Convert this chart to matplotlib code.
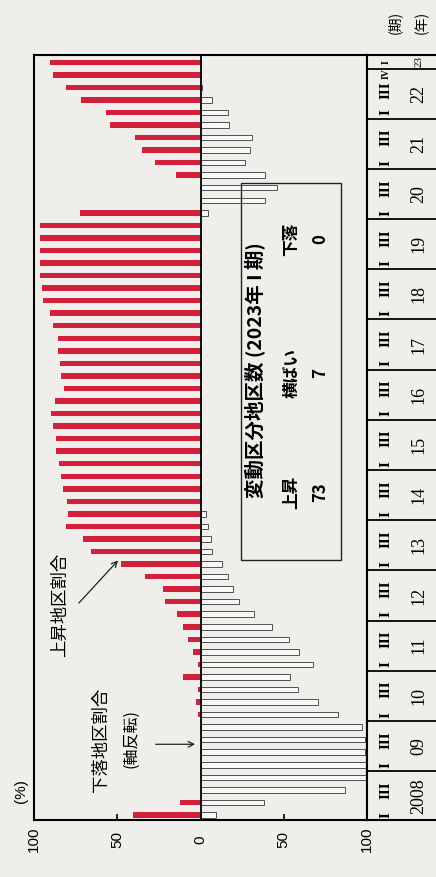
import matplotlib.pyplot as plt
from matplotlib.patches import Rectangle

plt.rcParams['font.family'] = ['Noto Sans CJK JP', 'DejaVu Sans']

# 2008年I期 ~ 2023年I期 (四半期)
quarters = list(range(61))
rise = [40.6, 12.5, 0, 0, 0, 0, 0, 0, 1.4, 2.8,
        1.4, 10.5, 1.4, 4.4, 7.4, 10.5, 14.1, 21.5, 22.5, 33.6,
        47.7, 65.8, 70.8, 80.9, 79.3, 79.9, 82.7, 83.5, 84.9, 86.5,
        86.9, 88.3, 89.5, 87.5, 81.9, 83.9, 84.5, 85.5, 85.5, 88.5,
        90.5, 94.6, 95.4, 96.6, 96.6, 96.6, 96.6, 96.6, 72.2, 0,
        0, 14.5, 27.6, 35.0, 39.4, 54.3, 56.7, 71.8, 80.9, 88.3,
        90.5]
fall = [9.3, 38.2, 86.5, 99.2, 99.2, 98.8, 98.8, 97.2, 82.7, 70.6,
        58.6, 53.9, 67.6, 59.4, 52.9, 42.9, 32.2, 23.1, 19.3, 16.3,
        13.1, 7.0, 6.0, 4.6, 3.0, 0, 0, 0, 0, 0,
        0, 0, 0, 0, 0, 0, 0, 0, 0, 0,
        0, 0, 0, 0, 0, 0, 0, 0, 4.2, 38.5,
        46.0, 38.4, 26.8, 29.8, 30.8, 17.1, 16.7, 6.6, 1.0, 0,
        0]
years = ['2008', '09', '10', '11', '12', '13', '14', '15', '16', '17',
         '18', '19', '20', '21', '22']
xticks = [-100, -50, 0, 50, 100]
xtick_labels = ['100', '50', '0', '50', '100']

bg = '#efeeeb'
red = '#d21f3c'

fig = plt.figure(figsize=(4.36, 8.77), dpi=100, facecolor=bg)
ax = fig.add_axes([0.078, 0.065, 0.764, 0.872], facecolor=bg)

ax.barh(quarters, [-v for v in rise], height=0.44, color=red)
ax.barh(quarters, fall, height=0.44, facecolor='#f8f8f8',
        edgecolor='#505050', linewidth=0.7)
ax.axvline(0, color='black', lw=1.3)

ax.set_xlim(-100, 100)
ax.set_ylim(-0.4, 60.56)
ax.set_yticks([])
ax.set_xticks(xticks)
ax.set_xticklabels(xtick_labels, rotation=90, va='center',
                   family='Liberation Sans', fontsize=11)
ax.tick_params(axis='x', direction='in', length=4, width=1.2, pad=14)
for s in ax.spines.values():
    s.set_linewidth(1.5)

ax.text(-0.04, 0.038, '(%)', transform=ax.transAxes, rotation=90,
        ha='center', va='center', fontsize=11, family='Liberation Sans')

# 注記
ax.text(0.078, 0.281, '上昇地区割合', transform=ax.transAxes, rotation=90,
        ha='center', va='center', fontsize=12.5)
ax.annotate('', xy=(0.258, 0.342), xytext=(0.129, 0.281),
            xycoords='axes fraction', textcoords='axes fraction',
            arrowprops=dict(arrowstyle='->', lw=0.9, color='#222222'))
ax.text(0.201, 0.105, '下落地区割合', transform=ax.transAxes, rotation=90,
        ha='center', va='center', fontsize=12.5)
ax.text(0.291, 0.107, '(軸反転)', transform=ax.transAxes, rotation=90,
        ha='center', va='center', fontsize=11.5)
ax.annotate('', xy=(0.492, 0.099), xytext=(0.357, 0.099),
            xycoords='axes fraction', textcoords='axes fraction',
            arrowprops=dict(arrowstyle='->', lw=0.9, color='#222222'))

# 変動区分地区数の枠
ax.add_patch(Rectangle((0.622, 0.340), 0.300, 0.493, transform=ax.transAxes,
                       fill=False, edgecolor='#222222', lw=1.0))
ax.text(0.664, 0.588, '変動区分地区数 (2023年 I 期)', transform=ax.transAxes,
        rotation=90, ha='center', va='center', fontsize=14, fontweight='bold')
for label, num, yp in [('上昇', '73', 0.428), ('横ばい', '7', 0.584), ('下落', '0', 0.759)]:
    ax.text(0.772, yp, label, transform=ax.transAxes, rotation=90,
            ha='center', va='center', fontsize=12, fontweight='bold')
    ax.text(0.859, yp, num, transform=ax.transAxes, rotation=90,
            ha='center', va='center', fontsize=12, fontweight='bold')

# 右側の年・期の表
ax2 = fig.add_axes([0.842, 0.065, 0.158, 0.872], facecolor=bg)
ax2.set_xlim(0, 1)
ax2.set_ylim(-0.4, 60.56)
ax2.set_xticks([])
ax2.set_yticks([])
ax2.spines['right'].set_visible(False)
for s in ['left', 'top', 'bottom']:
    ax2.spines[s].set_linewidth(1.5)
for k, y in enumerate(years):
    ax2.axhline(3.5 + 4 * k, color='black', lw=1.3)
    ax2.text(0.75, 4 * k + 1.5, y, rotation=90, ha='center', va='center',
             family='Liberation Serif', fontsize=13)
    ax2.text(0.27, 4 * k, 'I', rotation=90, ha='center', va='center',
             family='Liberation Serif', fontsize=11, fontweight='bold')
    q3 = 4 * k + 2 if k < len(years) - 1 else 4 * k + 1.8
    ax2.text(0.27, q3, 'III', rotation=90, ha='center', va='center',
             family='Liberation Serif', fontsize=11, fontweight='bold')
ax2.text(0.27, 59.1, 'IV', rotation=90, ha='center', va='center',
         family='Liberation Serif', fontsize=7, fontweight='bold')
ax2.text(0.27, 60.05, 'I', rotation=90, ha='center', va='center',
         family='Liberation Serif', fontsize=7, fontweight='bold')
ax2.text(0.75, 60.1, '23', rotation=90, ha='center', va='center',
         family='Liberation Serif', fontsize=8)

fig.text(0.905, 0.974, '(期)', rotation=90, ha='center', va='center', fontsize=10)
fig.text(0.968, 0.974, '(年)', rotation=90, ha='center', va='center', fontsize=10)

fig.savefig('out.png', dpi=100, facecolor=bg)
